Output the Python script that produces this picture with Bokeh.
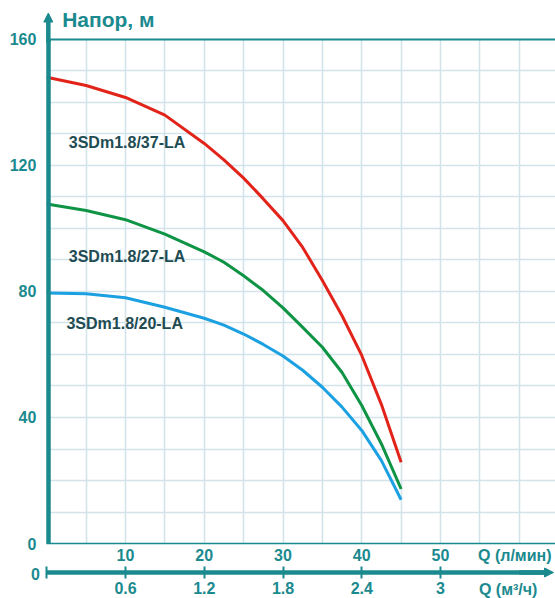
from bokeh.plotting import figure
from bokeh.models import (Range1d, LinearAxis, FixedTicker, Label, Grid,
                          Arrow, NormalHead)
from bokeh.embed import file_html
from bokeh.resources import INLINE

# ---- data ----
q_lmin = [0, 5, 10, 15, 20, 22.5, 25, 27.5, 30, 32.5, 35, 37.5, 40, 42.5, 45]
head_37 = [148.0, 145.4, 141.6, 136.0, 127.0, 121.8, 116.0, 109.4, 102.5, 94.0, 83.5, 72.3, 59.7, 44.1, 25.8]
head_27 = [107.8, 105.7, 102.8, 98.2, 92.6, 89.3, 85.0, 80.3, 74.8, 68.6, 62.3, 54.3, 43.8, 31.6, 17.3]
head_20 = [79.5, 79.3, 78.0, 75.0, 71.5, 69.3, 66.5, 63.2, 59.5, 55.0, 49.6, 43.3, 35.9, 26.3, 13.9]
pump_names = ["3SDm1.8/37-LA", "3SDm1.8/27-LA", "3SDm1.8/20-LA"]
y_ticks = [0, 40, 80, 120, 160]
q_ticks = [10, 20, 30, 40, 50]
m3h_ticks = [0, 0.6, 1.2, 1.8, 2.4, 3]

TEAL = "#1b8a8f"
GRID = "#d2e3ea"
DARK = "#1e4c52"
FONT = "Liberation Sans"

# plot area spans Q 0..64.6 l/min and H 0..160 m; the frame is the whole canvas
X0, X1 = -5.873, 64.603
Y0, Y1 = -17.46, 172.38
Q_END = X1

p = figure(width=555, height=598, x_range=Range1d(X0, X1), y_range=Range1d(Y0, Y1),
           x_axis_type=None, y_axis_type=None, min_border=0,
           output_backend="svg", toolbar_location=None)
p.outline_line_color = None
p.background_fill_color = "white"
p.extra_x_ranges = {"m3h": Range1d(X0 * 0.06, X1 * 0.06)}

# grid (bounded to the plot area)
p.add_layout(Grid(dimension=0, ticker=FixedTicker(ticks=[5 * i for i in range(1, 13)]),
                  cross_bounds=(0, 160), grid_line_color=GRID, grid_line_width=1.6))
p.add_layout(Grid(dimension=1, ticker=FixedTicker(ticks=[10 * i for i in range(1, 16)]),
                  cross_bounds=(0, Q_END), grid_line_color=GRID, grid_line_width=1.6))
p.add_layout(Grid(dimension=1, ticker=FixedTicker(ticks=[160]),
                  cross_bounds=(0, Q_END), grid_line_color=TEAL, grid_line_width=2))

def style_axis(ax):
    ax.major_label_text_font = FONT
    ax.major_label_text_font_style = "bold"
    ax.major_label_text_font_size = "16px"
    ax.major_label_text_color = TEAL
    ax.minor_tick_line_color = None
    ax.minor_tick_out = 0
    ax.minor_tick_in = 0
    ax.axis_line_color = TEAL

# curves
p.line(q_lmin, head_37, line_color="#e2231a", line_width=3)
p.line(q_lmin, head_27, line_color="#0e9444", line_width=3)
p.line(q_lmin, head_20, line_color="#1ba1e2", line_width=3)

# x axis (l/min) along H = 0
xa = LinearAxis(fixed_location=0, ticker=FixedTicker(ticks=q_ticks), bounds=(0, Q_END))
style_axis(xa)
xa.major_tick_out = 0
xa.major_tick_in = 0
xa.major_tick_line_color = None
xa.axis_line_width = 1.5
xa.major_label_standoff = 5
p.add_layout(xa, "below")

# second x axis (m3/h)
xb = LinearAxis(x_range_name="m3h", fixed_location=-9.2,
                ticker=FixedTicker(ticks=m3h_ticks), bounds=(0, 3.82))
style_axis(xb)
xb.major_label_overrides = {0: "", 3: "3"}
xb.major_tick_out = 6
xb.major_tick_in = 6
xb.major_tick_line_color = TEAL
xb.major_tick_line_width = 2
xb.axis_line_width = 4.5
xb.major_label_standoff = 4
p.add_layout(xb, "below")

# y axis (head)
ya = LinearAxis(fixed_location=0.2, ticker=FixedTicker(ticks=y_ticks), bounds=(0, 160))
style_axis(ya)
ya.major_tick_out = 0
ya.major_tick_in = 0
ya.major_tick_line_color = None
ya.axis_line_width = 4.5
ya.major_label_standoff = 12
p.add_layout(ya, "left")

# arrow heads of both axes
p.add_layout(Arrow(x_start=0.2, y_start=159, x_end=0.2, y_end=168.4,
                   line_color=TEAL, line_width=4.5,
                   end=NormalHead(size=9, fill_color=TEAL, line_color=TEAL, line_width=1)))
p.add_layout(Arrow(x_start=60, y_start=-9.2, x_end=64.35, y_end=-9.2,
                   line_color=TEAL, line_width=4.5,
                   end=NormalHead(size=9, fill_color=TEAL, line_color=TEAL, line_width=1)))

def lab(x, y, text, size="16px", color=DARK, align="left"):
    p.add_layout(Label(x=x, y=y, text=text, text_font=FONT, text_font_style="bold",
                       text_font_size=size, text_color=color, text_align=align,
                       text_baseline="middle"))

lab(2.8, 127.4, pump_names[0])
lab(2.8, 91.2, pump_names[1])
lab(2.5, 69.8, pump_names[2])
lab(1.96, 166.3, "Напор, м", size="21px", color=TEAL)
lab(64.1, -3.81, "Q (л/мин)", color=TEAL, align="right")
lab(62.3, -14.7, "Q (м³/ч)", color=TEAL, align="right")
lab(-0.88, -9.74, "0", color=TEAL, align="right")

open("out.html", "w").write(file_html(p, INLINE))
